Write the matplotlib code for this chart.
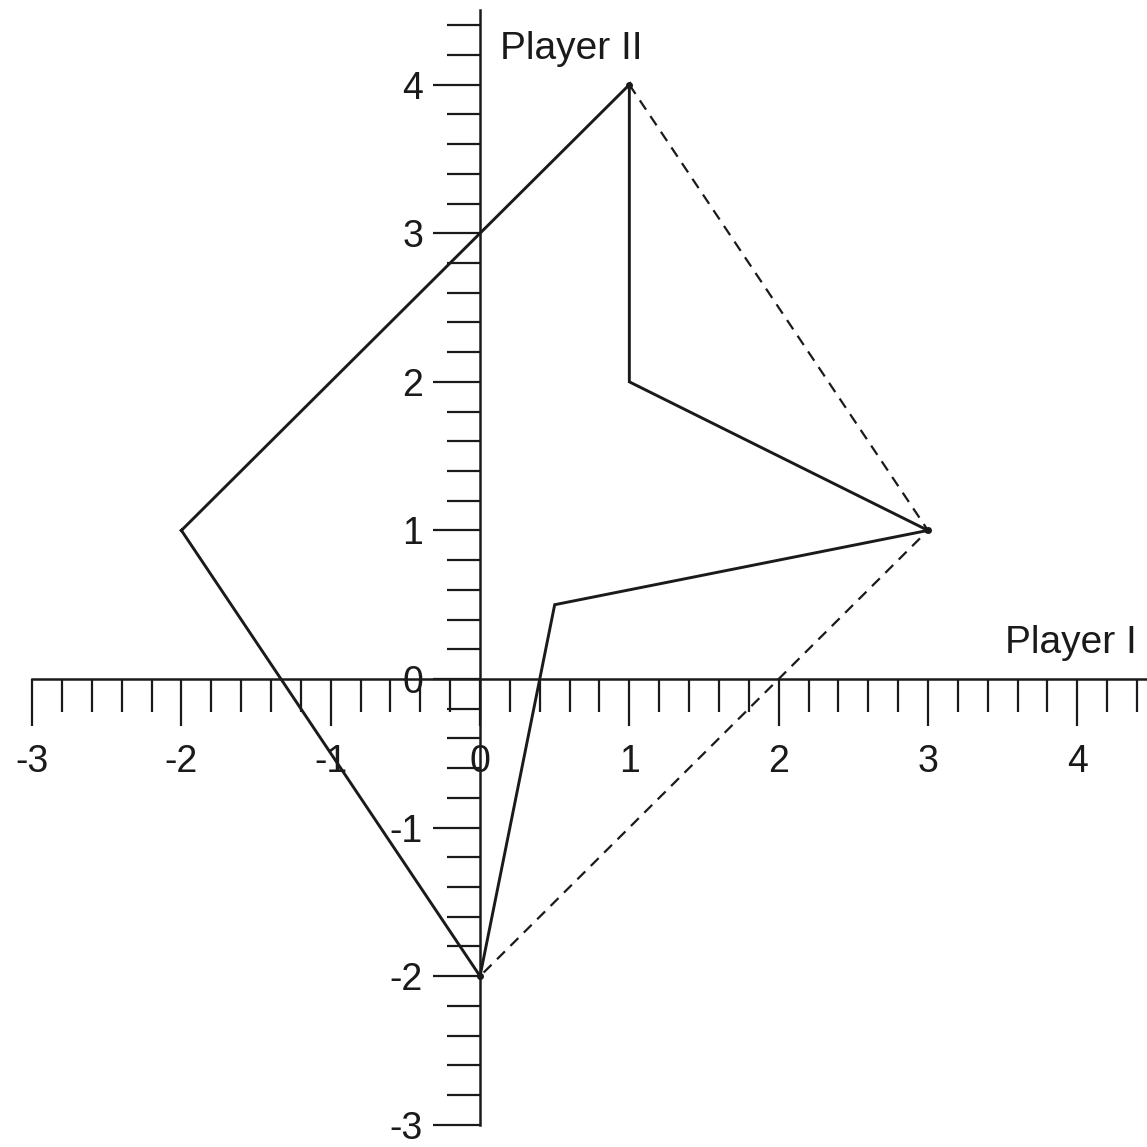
"""Two-player payoff region on crossed axes."""
import numpy as np
from matplotlib import pyplot as plt

plt.rcParams["font.family"] = ["Liberation Sans", "DejaVu Sans"]
plt.rcParams["axes.unicode_minus"] = False

# payoff region boundary (Player I, Player II)
region_x = [-2, 1, 1, 3, 0.5, 0, -2]
region_y = [1, 4, 2, 1, 0.5, -2, 1]

# dashed hull edges
hull_x = [1, 3, 0]
hull_y = [4, 1, -2]

# marked corner points
corner_x = [1, 3, 0]
corner_y = [4, 1, -2]

x_major = [-3, -2, -1, 0, 1, 2, 3, 4]
y_major = [-3, -2, -1, 0, 1, 2, 3, 4]


def main():
    """Draw the chart and save it."""
    fig = plt.figure(figsize=(11.47, 11.47), dpi=100)
    ax = fig.add_axes([0, 0, 1, 1])
    ink = "#1a1a1a"

    ax.plot(region_x, region_y, color=ink, lw=2.1, solid_joinstyle="miter")
    ax.plot(hull_x, hull_y, color=ink, lw=1.6, ls=(0, (5, 3.5)))
    ax.plot(corner_x, corner_y, "o", color=ink, ms=4)

    ax.set_xlim(-3.215, 4.467)
    ax.set_ylim(-3.15, 4.57)

    for side in ["top", "right"]:
        ax.spines[side].set_visible(False)
    ax.spines["left"].set_position(("data", 0))
    ax.spines["bottom"].set_position(("data", 0))
    ax.spines["left"].set_bounds(-3, 4.5)
    ax.spines["bottom"].set_bounds(-3, 4.467)
    for side in ["left", "bottom"]:
        ax.spines[side].set_linewidth(1.8)
        ax.spines[side].set_color(ink)

    ax.set_xticks(x_major)
    ax.set_xticklabels([str(v) for v in x_major])
    ax.set_yticks(y_major)
    ax.set_yticklabels([str(v) for v in y_major])
    ax.set_xticks(np.arange(-3, 4.41, 0.2), minor=True)
    ax.set_yticks(np.arange(-3, 4.41, 0.2), minor=True)

    ax.tick_params(which="major", length=34, width=1.6, color=ink,
                   labelsize=27, labelcolor=ink, direction="out")
    ax.tick_params(which="minor", length=24, width=1.6, color=ink,
                   direction="out")
    ax.tick_params(axis="x", which="major", pad=13)
    ax.tick_params(axis="y", which="major", pad=7)

    ax.text(0.134, 4.17, "Player II", fontsize=28, color=ink,
            ha="left", va="baseline")
    ax.text(4.40, 0.175, "Player I", fontsize=28, color=ink,
            ha="right", va="baseline")

    fig.savefig("out.png", dpi=100, facecolor="white")
    plt.close(fig)


if __name__ == "__main__":
    main()
